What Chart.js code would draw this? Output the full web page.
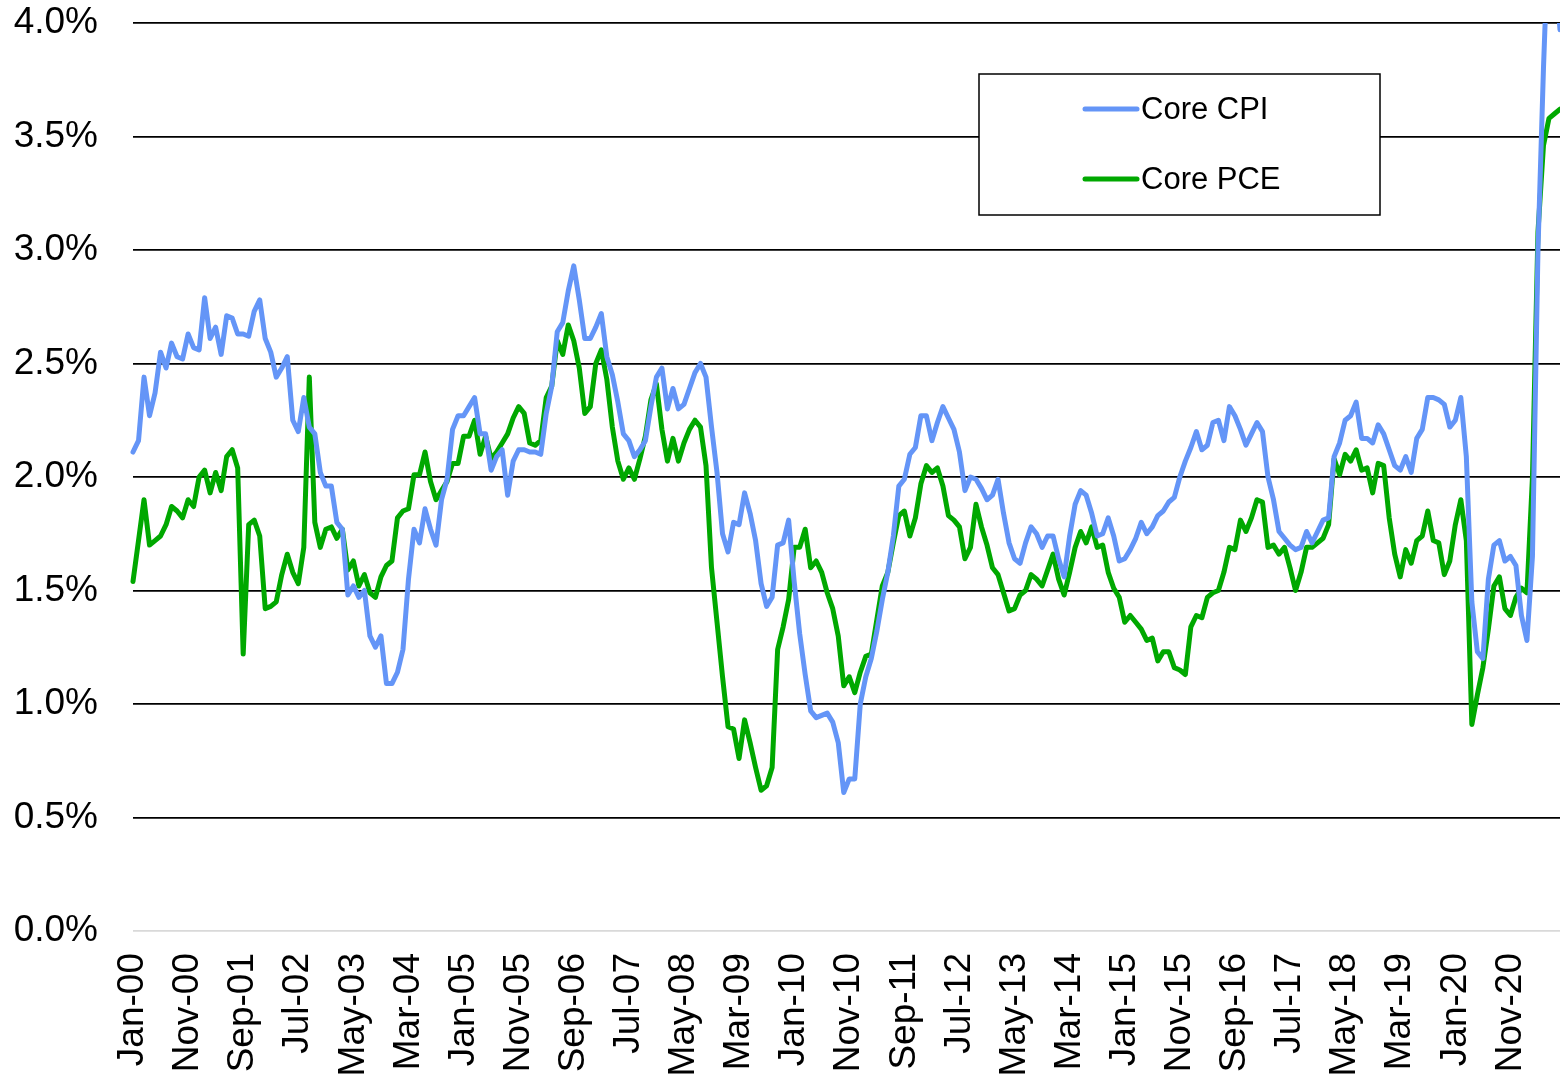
<!DOCTYPE html>
<html>
<head>
<meta charset="utf-8">
<script src="https://cdn.jsdelivr.net/npm/chart.js@4.4.1/dist/chart.umd.min.js"></script>
<style>
  html, body { margin: 0; padding: 0; background: #ffffff; }
  #wrap { position: relative; width: 1560px; height: 1077px; }
  canvas { display: block; }
</style>
</head>
<body>
<div id="wrap"><canvas id="c" width="1560" height="1077"></canvas></div>
<script>
// ---- Data (monthly, Jan-2000 .. Aug-2021), year-over-year % change ----
const monthNames = ['Jan','Feb','Mar','Apr','May','Jun','Jul','Aug','Sep','Oct','Nov','Dec'];
const startYear = 2000;
const monthCount = 260;

const coreCPI = [
  2.11,2.16,2.44,2.27,2.37,2.55,2.48,2.59,2.53,2.52,2.63,2.57,
  2.56,2.79,2.61,2.66,2.54,2.71,2.70,2.63,2.63,2.62,2.73,2.78,
  2.61,2.55,2.44,2.48,2.53,2.25,2.20,2.35,2.22,2.19,2.02,1.96,
  1.96,1.80,1.77,1.48,1.52,1.47,1.50,1.30,1.25,1.30,1.09,1.09,
  1.14,1.24,1.55,1.77,1.71,1.86,1.77,1.70,1.90,1.99,2.21,2.27,
  2.27,2.31,2.35,2.19,2.19,2.03,2.09,2.12,1.92,2.07,2.12,2.12,
  2.11,2.11,2.10,2.28,2.40,2.64,2.68,2.82,2.93,2.78,2.61,2.61,
  2.66,2.72,2.53,2.45,2.33,2.19,2.16,2.09,2.12,2.16,2.31,2.44,
  2.48,2.30,2.39,2.30,2.32,2.39,2.46,2.50,2.44,2.22,2.02,1.75,
  1.67,1.80,1.79,1.93,1.84,1.72,1.53,1.43,1.47,1.70,1.71,1.81,
  1.54,1.31,1.13,0.97,0.94,0.95,0.96,0.92,0.83,0.61,0.67,0.67,
  1.00,1.12,1.20,1.32,1.46,1.58,1.74,1.96,1.99,2.10,2.13,2.27,
  2.27,2.16,2.24,2.31,2.26,2.21,2.11,1.94,2.00,1.99,1.95,1.90,
  1.92,1.99,1.84,1.71,1.64,1.62,1.71,1.78,1.75,1.69,1.74,1.74,
  1.64,1.56,1.74,1.88,1.94,1.92,1.84,1.74,1.75,1.82,1.74,1.63,
  1.64,1.68,1.73,1.80,1.75,1.78,1.83,1.85,1.89,1.91,2.00,2.07,
  2.13,2.20,2.12,2.14,2.24,2.25,2.16,2.31,2.27,2.21,2.14,2.19,
  2.24,2.20,2.00,1.90,1.76,1.73,1.70,1.68,1.69,1.76,1.71,1.76,
  1.81,1.82,2.09,2.15,2.25,2.27,2.33,2.17,2.17,2.15,2.23,2.19,
  2.12,2.05,2.03,2.09,2.02,2.17,2.21,2.35,2.35,2.34,2.32,2.22,
  2.25,2.35,2.09,1.45,1.23,1.20,1.55,1.70,1.72,1.63,1.65,1.61,
  1.39,1.28,1.65,3.00,3.80,4.47,4.29,3.97
];

const corePCE = [
  1.54,1.72,1.90,1.70,1.72,1.74,1.79,1.87,1.85,1.82,1.90,1.87,
  2.00,2.03,1.93,2.02,1.94,2.09,2.12,2.04,1.22,1.79,1.81,1.74,
  1.42,1.43,1.45,1.57,1.66,1.58,1.53,1.69,2.44,1.80,1.69,1.77,
  1.78,1.73,1.77,1.59,1.63,1.52,1.57,1.49,1.47,1.56,1.61,1.63,
  1.82,1.85,1.86,2.01,2.01,2.11,1.98,1.90,1.94,1.98,2.06,2.06,
  2.18,2.18,2.25,2.10,2.18,2.08,2.11,2.15,2.19,2.26,2.31,2.28,
  2.15,2.14,2.16,2.35,2.40,2.60,2.54,2.67,2.60,2.48,2.28,2.31,
  2.50,2.56,2.43,2.22,2.07,1.99,2.04,1.99,2.08,2.18,2.34,2.41,
  2.21,2.07,2.17,2.07,2.15,2.21,2.25,2.22,2.05,1.60,1.36,1.12,
  0.90,0.89,0.76,0.93,0.83,0.72,0.62,0.64,0.72,1.24,1.34,1.46,
  1.69,1.69,1.77,1.60,1.63,1.58,1.49,1.42,1.30,1.08,1.12,1.05,
  1.14,1.21,1.22,1.37,1.52,1.58,1.71,1.83,1.85,1.74,1.82,1.97,
  2.05,2.02,2.04,1.96,1.83,1.81,1.78,1.64,1.69,1.88,1.78,1.70,
  1.60,1.57,1.49,1.41,1.42,1.48,1.50,1.57,1.55,1.52,1.59,1.66,
  1.55,1.48,1.58,1.69,1.76,1.71,1.78,1.69,1.70,1.58,1.51,1.47,
  1.36,1.39,1.36,1.33,1.28,1.29,1.19,1.23,1.23,1.16,1.15,1.13,
  1.34,1.39,1.38,1.47,1.49,1.50,1.58,1.69,1.68,1.81,1.76,1.82,
  1.90,1.89,1.69,1.70,1.66,1.69,1.60,1.50,1.58,1.69,1.69,1.71,
  1.73,1.79,2.08,2.01,2.10,2.07,2.12,2.03,2.04,1.93,2.06,2.05,
  1.82,1.66,1.56,1.68,1.62,1.72,1.74,1.85,1.72,1.71,1.57,1.63,
  1.79,1.90,1.72,0.91,1.04,1.16,1.33,1.52,1.56,1.42,1.39,1.47,
  1.51,1.49,2.00,3.08,3.46,3.58,3.60,3.62
];

const tickLabels = ['Jan-00','Nov-00','Sep-01','Jul-02','May-03','Mar-04','Jan-05','Nov-05',
  'Sep-06','Jul-07','May-08','Mar-09','Jan-10','Nov-10','Sep-11','Jul-12','May-13','Mar-14',
  'Jan-15','Nov-15','Sep-16','Jul-17','May-18','Mar-19','Jan-20','Nov-20'];

const yTicks = [0, 0.5, 1.0, 1.5, 2.0, 2.5, 3.0, 3.5, 4.0];
const seriesNames = ['Core CPI', 'Core PCE'];
const seriesColors = ['#6495f7', '#00a800'];

// category labels Jan-00 ... Aug-21
const categories = [];
for (let k = 0; k < monthCount; k++) {
  const y = startYear + Math.floor(k / 12);
  categories.push(monthNames[k % 12] + '-' + String(y % 100).padStart(2, '0'));
}

const FONT = "'Liberation Sans', Arial, Helvetica, sans-serif";

const boxLegend = {
  id: 'boxLegend',
  afterDraw(chart) {
    const ctx = chart.ctx;
    const x0 = 979, y0 = 74, w = 401, h = 141;
    ctx.save();
    ctx.fillStyle = '#ffffff';
    ctx.fillRect(x0, y0, w, h);
    ctx.lineWidth = 1.5;
    ctx.strokeStyle = '#000000';
    ctx.strokeRect(x0, y0, w, h);
    const rows = [109, 179];
    chart.data.datasets.forEach((ds, k) => {
      const yy = rows[k];
      ctx.beginPath();
      ctx.lineCap = 'round';
      ctx.lineWidth = 5;
      ctx.strokeStyle = ds.borderColor;
      ctx.moveTo(1085, yy);
      ctx.lineTo(1137, yy);
      ctx.stroke();
      ctx.fillStyle = '#000000';
      ctx.font = '31px ' + FONT;
      ctx.textAlign = 'left';
      ctx.textBaseline = 'middle';
      ctx.fillText(ds.label, 1141, yy + 1);
    });
    ctx.restore();
  }
};

new Chart(document.getElementById('c'), {
  type: 'line',
  data: {
    labels: categories,
    datasets: [
      { label: seriesNames[0], data: coreCPI, borderColor: seriesColors[0], backgroundColor: seriesColors[0],
        borderWidth: 5, pointRadius: 0, tension: 0, borderJoinStyle: 'round', borderCapStyle: 'round',
        clip: { left: 3, right: 3, top: 0, bottom: 3 } },
      { label: seriesNames[1], data: corePCE, borderColor: seriesColors[1], backgroundColor: seriesColors[1],
        borderWidth: 5, pointRadius: 0, tension: 0, borderJoinStyle: 'round', borderCapStyle: 'round',
        clip: { left: 3, right: 3, top: 0, bottom: 3 } }
    ]
  },
  options: {
    responsive: false,
    animation: false,
    devicePixelRatio: 1,
    layout: { padding: { top: 23, right: 0, bottom: 0, left: 0 } },
    plugins: { legend: { display: false }, tooltip: { enabled: false } },
    scales: {
      x: {
        type: 'category',
        offset: false,
        grid: { display: false, drawTicks: false },
        border: { display: false },
        ticks: {
          autoSkip: false, maxRotation: 90, minRotation: 90, padding: 22,
          color: '#000000', font: { family: FONT, size: 37 },
          callback: function (v, i) { const l = this.getLabelForValue(v); return tickLabels.includes(l) ? l : ''; }
        },
        afterFit: (s) => { s.height = 146; s.paddingLeft = 0; s.paddingRight = 0; s.paddingTop = 0; s.paddingBottom = 0; }
      },
      y: {
        min: 0, max: 4,
        afterBuildTicks: (s) => { s.ticks = yTicks.map(v => ({ value: v })); },
        grid: {
          drawTicks: false,
          lineWidth: 1.8,
          color: (c) => (c.tick && c.tick.value === 0) ? '#d9d9d9' : '#000000'
        },
        border: { display: false },
        ticks: {
          padding: 35, color: '#000000', font: { family: FONT, size: 37 },
          callback: (v) => Number(v).toFixed(1) + '%'
        },
        afterFit: (s) => { s.width = 133; s.paddingTop = 0; s.paddingBottom = 0; s.paddingLeft = 0; s.paddingRight = 0; }
      }
    }
  },
  plugins: [boxLegend]
});
</script>
</body>
</html>
